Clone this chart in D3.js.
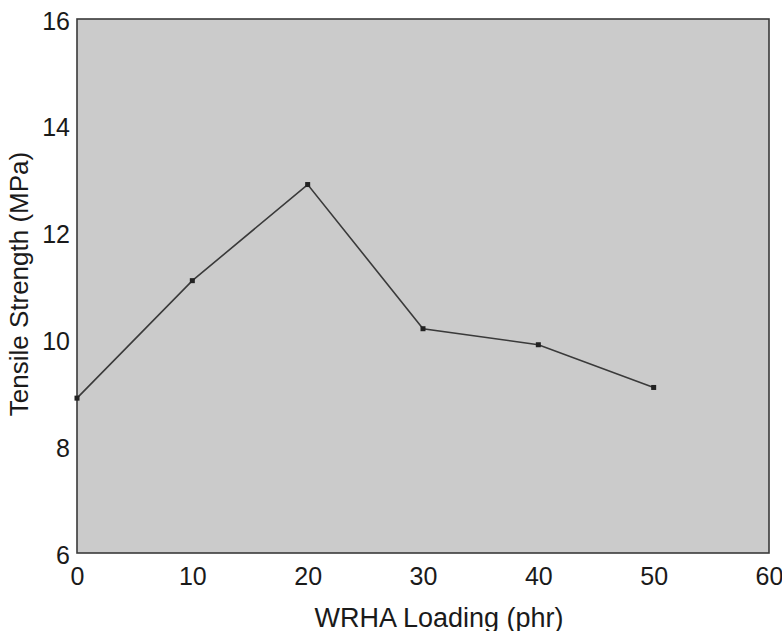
<html>
<head>
	<meta charset="utf-8">
	<script src="https://d3js.org/d3.v7.min.js"></script>
	<style>
	body{margin:0;background-color:white;}
	svg text{font-family:"Liberation Sans",Arial,sans-serif;fill:#1a1a1a;}
	</style>
</head>
<body>
<script type="text/javascript">
	// data
	var loading=[0,10,20,30,40,50]
	var strength=[8.9,11.1,12.9,10.2,9.9,9.1]
	var xTicks=[0,10,20,30,40,50,60]
	var yTicks=[6,8,10,12,14,16]

	var w=782
	var h=631
	var pL=77, pR=769, pT=19, pB=553

	var xScale=d3.scaleLinear().domain([0,60]).range([pL,pR]);
	var yScale=d3.scaleLinear().domain([6,16]).range([pB,pT]);

	var svg=d3.select('body').append('svg').attr('width',w).attr('height',h);

	// grey plot area with border
	svg.append("rect").attr("x",pL).attr("y",pT).attr("width",pR-pL).attr("height",pB-pT)
		.attr("fill","#cbcbcb").attr("stroke","#3a3a3a").attr("stroke-width",1.6);

	//Axis (labels only, no tick marks)
	var xAxis=d3.axisBottom(xScale).tickValues(xTicks).tickSize(0).tickPadding(14);
	var yAxis=d3.axisLeft(yScale).tickValues(yTicks).tickSize(0).tickPadding(7);
	var gx=svg.append("g").attr("transform","translate(0,"+pB+")").call(xAxis);
	var gy=svg.append("g").attr("transform","translate("+pL+",2)").call(yAxis);
	gx.select(".domain").remove();
	gy.select(".domain").remove();
	gx.selectAll("text").attr("font-size",25).attr("fill","#1a1a1a").attr("font-family",null);
	gy.selectAll("text").attr("font-size",25).attr("fill","#1a1a1a").attr("font-family",null);

	// line + markers
	var line=d3.line().x(function(d,i){return xScale(loading[i]);}).y(function(d){return yScale(d);});
	svg.append("path").attr("d",line(strength)).attr("fill","none").attr("stroke","#3a3a3a").attr("stroke-width",1.6);
	svg.selectAll(".pt").data(strength).enter().append("rect").attr("class","pt")
		.attr("x",function(d,i){return xScale(loading[i])-2.5;}).attr("y",function(d){return yScale(d)-2.5;})
		.attr("width",5).attr("height",5).attr("fill","#222");

	// axis titles
	svg.append("text").attr("x",439).attr("y",627).attr("text-anchor","middle").attr("font-size",27).text("WRHA Loading (phr)");
	svg.append("text").attr("transform","translate(28,284) rotate(-90)").attr("text-anchor","middle").attr("font-size",26).text("Tensile Strength (MPa)");
</script>
</body>
</html>
